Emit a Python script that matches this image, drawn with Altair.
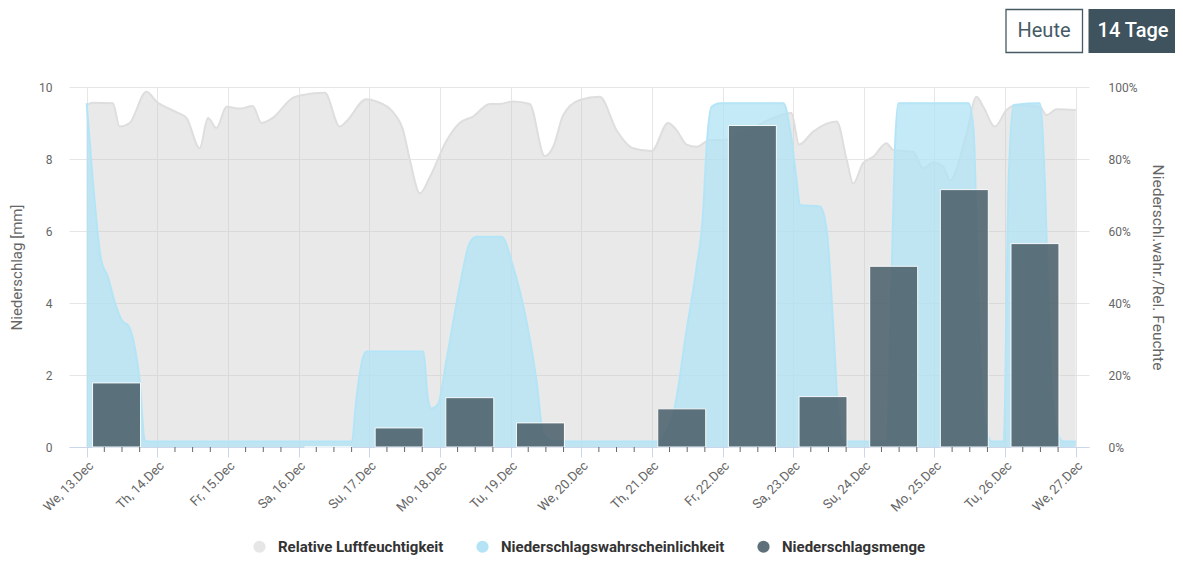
import altair as alt
import pandas as pd

START = pd.Timestamp("2023-12-13 00:00:00")


def iso(h):
    return (START + pd.Timedelta(hours=h)).strftime("%Y-%m-%dT%H:%M:%SZ")


# Relative Luftfeuchtigkeit (%), hours since We 13.Dec 00:00
hum_hours = [0, 2.1, 8.9, 11.2, 14.6, 20.3, 23.7, 30.5, 33.9, 38.4, 41.2, 44.1, 47.5, 52, 56.4,
             59.4, 63.2, 70, 73.4, 80.9, 86, 88.2, 95, 98.4, 104.1, 107.5, 109.8, 113.2, 116.6,
             122.2, 126.7, 131.3, 136.9, 140.3, 144.9, 150.5, 155.6, 158.5, 161.9, 167.5, 174.3,
             180, 185.6, 191.9, 197.5, 200.4, 203.8, 207.2, 211.7, 216.2, 225, 232, 239.4, 242,
             246.8, 254.8, 258.2, 260.4, 263.8, 267.2, 271.7, 274, 280.8, 284.2, 287.5, 290.9,
             293.3, 298.9, 302.3, 304.6, 308.5, 312.5, 315.9, 323.8, 326.1, 329.5, 336]
hum_values = [95, 95.6, 95.5, 89, 90, 98.7, 96, 93, 91.4, 83, 91.4, 88.6, 94.5, 94, 94.7,
              90, 91.4, 97, 97.8, 98.4, 89, 90.4, 96.6, 96, 93, 88, 79.7, 70.5, 75,
              85, 90, 91.8, 95.3, 95.3, 96, 95.3, 80.8, 83.4, 92.2, 96.4, 97.3,
              88, 83, 82.2, 90, 88, 84, 83.4, 85.3, 85.3, 88, 91, 92.8, 84,
              87.6, 90.4, 79.7, 73.2, 78.9, 80.6, 84.4, 82.5, 82, 77.4, 79, 77.9,
              74, 87, 97.3, 94.5, 89, 93.6, 95, 94.5, 92.2, 93.8, 93.6]

# Niederschlagswahrscheinlichkeit (%)
prob_hours = [0, 2.1, 4.9, 7.2, 10, 12.3, 14, 16.3, 18, 19.7, 20.8, 90, 91.7, 93.9, 95, 114.3,
              116, 117.1, 119.4, 122.2, 126.7, 130.1, 132.4, 140.9, 144.9, 149.4, 152.8, 155.1,
              158.5, 193.6, 199.3, 203.8, 207.2, 209.4, 210.6, 212.3, 215.2, 236.7, 239, 241.2,
              242.3, 249.1, 251.4, 253.7, 255.3, 257.1, 271.7, 273.4, 274.6, 275.7, 299.6, 301.3,
              303, 304.7, 307.5, 311.5, 313.2, 314.9, 323.8, 325.5, 327.2, 329.5, 331.8, 336]
prob_values = [95.5, 74, 52, 47.3, 39, 34.8, 33.9, 27.9, 18.6, 2, 1.5, 1.5, 14, 25, 26.5, 26.5,
               13, 10.7, 12, 24, 44.5, 56.6, 58.4, 58.4, 50, 35, 18.6, 3.8,
               1.5, 1.5, 9.4, 32.5, 50, 65, 83.4, 94.5, 95.5, 95.5, 88, 74,
               67.2, 66.8, 60.3, 32.5, 9.4, 1.5, 1.5, 46.4, 83.4, 95.5, 95.5, 88,
               37, 9.4, 1.5, 1.5, 74, 95, 95.5, 74, 27.9, 4.7, 1.5, 1.5]

# Niederschlagsmenge (mm) per day (day index since 13.Dec)
bar_days = [0, 3, 4, 5, 6, 8, 9, 10, 11, 12, 13]
bar_values = [1.78, 0.0, 0.53, 1.37, 0.67, 1.06, 8.93, 1.4, 5.02, 7.15, 5.65]

legend_names = ["Relative Luftfeuchtigkeit", "Niederschlagswahrscheinlichkeit", "Niederschlagsmenge"]
legend_colors = ["#e6e6e6", "#b3e3f5", "#5e717b"]

button_labels = ["Heute", "14 Tage"]

hum_df = pd.DataFrame({"t": [iso(h) for h in hum_hours], "v": hum_values})
prob_df = pd.DataFrame({"t": [iso(h) for h in prob_hours], "v": prob_values})
bar_df = pd.DataFrame({
    "s": [iso(d * 24 + 2) for d in bar_days],
    "e": [iso(d * 24 + 18.3) for d in bar_days],
    "v": bar_values,
})
minor_df = pd.DataFrame({"t": [iso(d * 24 + h) for d in range(14) for h in (6, 12, 18)]})
legend_df = pd.DataFrame({"name": legend_names})
btn_df = pd.DataFrame({"a": [0]})

FONT = "Roboto"

x_scale = alt.Scale(
    type="utc",
    domain=[alt.DateTime(year=2023, month=12, date=12, hours=18, utc=True),
            alt.DateTime(year=2023, month=12, date=27, hours=4, minutes=30, utc=True)],
    padding=0,
)
x_axis = alt.Axis(
    values=[alt.DateTime(year=2023, month=12, date=d, utc=True) for d in range(13, 28)],
    labelExpr="substring(utcFormat(datum.value, '%a'), 0, 2) + ', ' + utcFormat(datum.value, '%d.%b')",
    labelAngle=-45, labelFontSize=13, labelColor="#666666", labelFont=FONT, labelPadding=2,
    tickColor="#ccd6eb", tickSize=10, domainColor="#ccd6eb", grid=True, gridColor="#e6e6e6",
    title=None, labelOverlap=False,
)
y_right = alt.Axis(
    orient="right", values=[0, 20, 40, 60, 80, 100], labelExpr="datum.value + '%'",
    grid=False, ticks=False, tickSize=0, domain=False, labelPadding=19, labelFontSize=12,
    labelColor="#666666", labelFont=FONT, title="Niederschl.wahr./Rel. Feuchte",
    titleAngle=90, titleFontSize=15.5, titleColor="#666666", titleFont=FONT,
    titleFontWeight="normal", titlePadding=12,
)
y_left = alt.Axis(
    orient="left", values=[0, 2, 4, 6, 8, 10], grid=True, gridColor="#e6e6e6", ticks=False,
    tickSize=0, domain=False, labelPadding=17, labelFontSize=12, labelColor="#666666",
    labelFont=FONT, title="Niederschlag [mm]", titleFontSize=15, titleColor="#666666",
    titleFont=FONT, titleFontWeight="normal", titlePadding=14,
)
pct_scale = alt.Scale(domain=[0, 100], nice=False)

hum = alt.Chart(hum_df).mark_area(
    interpolate="monotone", color="#c8c8c8", fillOpacity=0.4,
    line={"color": "#dedede", "strokeWidth": 2},
).encode(
    x=alt.X("t:T", scale=x_scale, axis=x_axis),
    y=alt.Y("v:Q", scale=pct_scale, axis=y_right),
)
prob = alt.Chart(prob_df).mark_area(
    interpolate="monotone", color="#b0e2f4", fillOpacity=0.75,
    line={"color": "#b3e5f7", "strokeWidth": 2},
).encode(
    x=alt.X("t:T", scale=x_scale, axis=x_axis),
    y=alt.Y("v:Q", scale=pct_scale, axis=y_right),
)
areas = alt.layer(hum, prob)

bars = alt.Chart(bar_df).mark_bar(
    color="#4a5f69", opacity=0.86, stroke="white", strokeWidth=1,
).encode(
    x=alt.X("s:T", scale=x_scale, axis=x_axis),
    x2="e:T",
    y=alt.Y("v:Q", scale=alt.Scale(domain=[0, 10], nice=False), axis=y_left),
    y2=alt.datum(0),
)

minor = alt.Chart(minor_df).mark_rule(color="#666666", strokeWidth=1).encode(
    x=alt.X("t:T", scale=x_scale, axis=x_axis),
    y=alt.value(360), y2=alt.value(365),
)

legend_layer = alt.Chart(legend_df).mark_circle(opacity=0).encode(
    x=alt.value(0), y=alt.value(0),
    color=alt.Color("name:N", scale=alt.Scale(domain=legend_names, range=legend_colors),
                    legend=alt.Legend(
                        orient="none", legendX=183, legendY=452, direction="horizontal",
                        title=None, symbolType="circle", symbolSize=150, symbolOpacity=1,
                        symbolStrokeWidth=0, labelFont=FONT, labelFontSize=15,
                        labelFontWeight="bold", labelColor="#333333", labelOffset=11,
                        columnPadding=31, labelLimit=400,
                    )),
)

btn_heute_box = alt.Chart(btn_df).mark_rect(fill="white", stroke="#455a64", strokeWidth=1.3).encode(
    x=alt.value(937), x2=alt.value(1013.5), y=alt.value(-77.5), y2=alt.value(-34.5))
btn_tage_box = alt.Chart(btn_df).mark_rect(fill="#3e535d").encode(
    x=alt.value(1019.5), x2=alt.value(1106), y=alt.value(-78), y2=alt.value(-34))
btn_heute_txt = alt.Chart(btn_df).mark_text(
    text=button_labels[0], font=FONT, fontSize=20, color="#455a64", align="center", baseline="middle",
).encode(x=alt.value(975), y=alt.value(-56))
btn_tage_txt = alt.Chart(btn_df).mark_text(
    text=button_labels[1], font=FONT, fontSize=20, fontWeight=500, color="white",
    align="center", baseline="middle",
).encode(x=alt.value(1064), y=alt.value(-56))

chart = alt.layer(
    areas, bars, minor, legend_layer, btn_heute_box, btn_tage_box, btn_heute_txt, btn_tage_txt,
).resolve_scale(y="independent").properties(
    width=1020, height=360,
    autosize=alt.AutoSizeParams(type="none"),
    padding={"left": 61, "top": 79, "right": 86, "bottom": 110},
    background="white",
).configure_view(stroke=None)

chart.save("out.html", embed_options={"renderer": "svg", "actions": False})
